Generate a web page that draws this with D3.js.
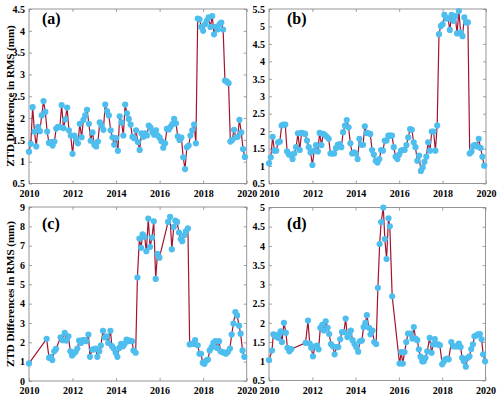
<!DOCTYPE html>
<html><head><meta charset="utf-8">
<script src="https://cdn.jsdelivr.net/npm/d3@7"></script>
<style>body{margin:0;background:#fff}svg{display:block}
text{font-family:"Liberation Serif","Tinos","Times New Roman","DejaVu Serif",serif;font-weight:bold}</style>
</head><body><svg id="c" width="500" height="398"></svg>
<script>
// ---- data ----
const xTicks = [2010, 2012, 2014, 2016, 2018, 2020];
const startYear = 2010; // panels a and b are monthly series starting Jan 2010

const valuesA = [1.23,1.41,2.25,1.69,1.35,1.80,1.70,2.06,2.39,2.14,1.69,1.43,1.45,1.37,1.46,1.76,1.80,1.79,2.30,1.77,
1.97,2.24,1.72,1.60,1.18,1.60,1.52,1.42,1.87,1.56,1.96,2.06,2.19,1.87,1.48,1.67,1.39,1.35,1.46,1.90,
1.83,1.73,2.31,2.16,2.06,1.72,1.56,1.39,1.54,1.25,2.04,1.90,1.60,2.31,2.11,1.98,1.85,1.57,1.54,1.72,
1.45,1.27,1.65,1.57,1.65,1.60,1.83,1.78,1.68,1.62,1.72,1.60,1.55,1.47,1.32,1.42,1.75,1.74,1.80,1.86,
1.98,1.88,1.58,1.50,1.55,1.10,0.83,1.33,1.37,1.60,1.72,1.85,1.42,4.28,4.26,4.09,4.00,4.15,4.23,4.31,
4.09,4.34,3.92,4.09,4.03,4.15,4.19,4.03,2.86,2.84,2.80,1.46,1.50,1.73,1.56,1.57,1.96,1.67,1.29,1.11];

const valuesB = [1.08,1.25,1.84,1.44,1.44,1.68,1.70,2.16,2.19,2.19,1.42,1.33,1.33,1.20,1.36,1.54,1.94,1.46,1.95,1.94,
1.92,1.73,1.54,1.39,1.03,1.44,1.60,1.42,1.95,1.60,1.92,1.89,1.84,1.78,1.36,1.36,1.36,1.51,1.61,1.63,
1.54,1.97,2.16,2.32,2.11,1.65,1.36,1.39,1.36,1.20,1.78,1.61,1.61,2.14,1.95,1.94,1.92,1.46,1.33,1.15,
1.10,1.20,1.46,1.44,1.73,1.73,1.87,1.87,1.87,1.54,1.27,1.20,1.33,1.44,1.46,1.46,1.60,1.82,2.06,2.04,
1.68,1.54,1.15,1.30,0.86,0.96,1.12,1.27,1.68,1.44,1.99,1.99,1.44,2.16,4.78,5.01,5.06,5.33,5.23,5.23,
4.90,5.33,5.16,5.30,4.80,5.44,4.83,4.72,5.26,5.11,5.12,1.36,1.42,1.58,1.61,1.56,1.78,1.52,1.27,1.01];

const yearsC = [2010.0,2010.81,2010.92,2011.0,2011.07,2011.16,2011.24,2011.45,2011.55,2011.64,2011.72,2011.81,2011.9,2011.98,
2012.06,2012.14,2012.22,2012.3,2012.39,2012.47,2012.56,2012.63,2012.73,2012.8,2012.9,2012.97,2013.06,2013.14,2013.23,2013.3,
2013.4,2013.48,2013.57,2013.64,2013.74,2013.81,2013.89,2013.98,2014.06,2014.15,2014.23,2014.32,2014.39,2014.48,2014.56,2014.64,
2014.73,2014.8,2014.9,2014.98,2015.07,2015.15,2015.22,2015.31,2015.39,2015.48,2015.56,2015.65,2015.73,2015.82,2015.9,2015.99,
2016.39,2016.48,2016.56,2016.65,2016.72,2016.8,2016.89,2016.97,2017.04,2017.13,2017.21,2017.3,2017.38,2017.47,2017.55,2017.63,
2017.75,2017.83,2017.9,2017.98,2018.06,2018.14,2018.22,2018.3,2018.39,2018.47,2018.56,2018.64,2018.73,2018.8,2018.9,2018.97,
2019.05,2019.14,2019.23,2019.31,2019.39,2019.48,2019.56,2019.65,2019.72,2019.81,2019.89];
const valuesC = [0.91,2.18,1.20,1.25,1.08,1.54,1.66,2.26,2.11,2.49,2.09,2.31,1.54,1.32,
1.42,1.51,1.68,2.09,1.97,2.11,2.11,2.06,2.40,1.25,1.63,1.63,1.68,1.25,1.54,1.83,
2.60,2.26,2.31,1.97,2.60,1.80,1.68,1.46,1.25,1.71,1.92,1.80,1.92,2.14,2.06,2.09,
2.06,1.58,1.46,5.35,7.37,6.89,7.59,7.46,6.71,8.40,6.94,7.42,8.26,5.28,6.58,6.38,
8.23,8.49,6.81,7.97,8.30,8.23,7.68,7.34,7.23,7.54,7.75,7.89,1.89,1.92,1.92,2.11,
1.85,1.41,1.41,0.94,0.89,1.06,1.11,1.58,1.75,1.97,2.06,1.71,2.06,1.54,1.49,1.46,
1.41,1.51,1.68,2.40,2.97,3.57,3.39,2.86,2.45,1.58,1.25];

const yearsD = [2010.0,2010.14,2010.2,2010.29,2010.35,2010.42,2010.48,2010.54,2010.6,2010.69,2010.78,2010.85,2010.94,2011.03,
2011.69,2011.8,2011.88,2011.95,2012.03,2012.12,2012.22,2012.29,2012.37,2012.46,2012.54,2012.62,2012.71,2012.78,2012.86,2012.95,
2013.03,2013.12,2013.2,2013.29,2013.37,2013.46,2013.54,2013.62,2013.71,2013.78,2013.86,2013.95,2014.03,2014.12,2014.2,2014.29,
2014.37,2014.45,2014.52,2014.62,2014.69,2014.78,2014.86,2014.95,2015.03,2015.11,2015.18,2015.28,2015.35,2015.43,2015.52,2015.58,
2015.69,2016.03,2016.11,2016.18,2016.26,2016.34,2016.42,2016.54,2016.62,2016.69,2016.77,2016.85,2016.92,2017.0,2017.08,2017.15,
2017.23,2017.31,2017.42,2017.51,2017.58,2017.66,2017.74,2017.82,2017.89,2018.0,2018.08,2018.15,2018.23,2018.3,2018.42,2018.51,
2018.62,2018.69,2018.77,2018.85,2018.92,2019.0,2019.09,2019.18,2019.26,2019.34,2019.42,2019.49,2019.57,2019.65,2019.74,2019.82,
2019.89,2019.98];
const valuesD = [1.03,1.28,1.70,1.65,1.68,1.61,1.70,1.78,1.50,2.00,1.74,1.35,1.26,1.32,
1.48,2.06,1.46,1.35,1.13,1.39,1.41,1.31,1.87,1.95,1.80,2.04,1.87,1.71,1.45,1.39,
1.18,1.37,1.37,1.57,1.76,1.76,2.11,1.63,1.70,1.80,1.55,1.45,1.37,1.25,1.52,1.54,
1.89,2.00,2.20,1.87,1.70,1.80,1.50,1.45,2.91,4.05,4.62,5.00,4.18,3.66,4.72,4.51,
2.69,0.94,1.24,0.94,1.24,1.50,1.72,1.72,1.59,1.89,1.59,1.55,1.31,1.12,1.00,1.00,
1.09,1.26,1.61,1.22,1.44,1.58,1.44,1.44,1.42,0.92,1.00,1.05,1.07,1.05,1.50,1.39,
1.39,1.39,1.46,1.37,1.09,1.00,0.86,1.09,1.13,1.32,1.44,1.65,1.67,1.70,1.71,1.57,
1.18,1.00];

const yTicksA = [0.5,1,1.5,2,2.5,3,3.5,4,4.5];
const yTicksB = [0.5,1,1.5,2,2.5,3,3.5,4,4.5,5,5.5];
const yTicksC = [0,1,2,3,4,5,6,7,8,9];
const yTicksD = [0.5,1,1.5,2,2.5,3,3.5,4,4.5,5];
const yLabelTop = "ZTD Difference in RMS (mm)";
const yLabelBottom = "ZTD Differences in RMS (mm)";

// ---- drawing ----
const svg = d3.select("#c");
const lineColor = "#A2142F", markerColor = "#4DBEEE", frameColor = "#8a8a8a";

function monthly(vals){ return vals.map((v,i)=>({x:startYear + i/12, y:v})); }
function paired(xs, ys){ return xs.map((x,i)=>({x:x, y:ys[i]})); }

const panels = [
  {id:"(a)", data:monthly(valuesA), yDom:[0.5,4.5], yTicks:yTicksA, box:[29,246.7,9,183.5], lab:[42,24]},
  {id:"(b)", data:monthly(valuesB), yDom:[0.5,5.5], yTicks:yTicksB, box:[269,486,9,183.5], lab:[287,24]},
  {id:"(c)", data:paired(yearsC,valuesC), yDom:[0,9], yTicks:yTicksC, box:[29,246.7,207,381], lab:[42,229]},
  {id:"(d)", data:paired(yearsD,valuesD), yDom:[0.5,5], yTicks:yTicksD, box:[269,485.5,207.5,380.5], lab:[287,229]}
];

panels.forEach(p=>{
  const [l,r,t,b] = p.box;
  const x = d3.scaleLinear().domain([2010,2020]).range([l,r]);
  const y = d3.scaleLinear().domain(p.yDom).range([b,t]);
  const g = svg.append("g");

  const fmt = d => String(d);
  const ax = (gen, tr, labels) => {
    const a = g.append("g").attr("transform", tr).call(gen);
    a.attr("font-family", null).attr("font-size", null);
    a.select(".domain").remove();
    a.selectAll(".tick line").attr("stroke", frameColor).attr("stroke-width", 0.8);
    a.selectAll("text").style("font-size", "10px").attr("fill","#000");
    if(!labels) a.selectAll("text").remove();
    return a;
  };
  ax(d3.axisBottom(x).tickValues(xTicks).tickFormat(d3.format("d")).tickSizeInner(-3).tickSizeOuter(0).tickPadding(6), `translate(0,${b})`, true);
  ax(d3.axisTop(x).tickValues(xTicks).tickSizeInner(-3).tickSizeOuter(0), `translate(0,${t})`, false);
  ax(d3.axisLeft(y).tickValues(p.yTicks).tickFormat(fmt).tickSizeInner(-3).tickSizeOuter(0).tickPadding(4), `translate(${l},0)`, true);
  ax(d3.axisRight(y).tickValues(p.yTicks).tickSizeInner(-3).tickSizeOuter(0), `translate(${r},0)`, false);

  g.append("rect").attr("x",l).attr("y",t).attr("width",r-l).attr("height",b-t)
    .attr("fill","none").attr("stroke",frameColor).attr("stroke-width",0.9);

  const line = d3.line().x(d=>x(d.x)).y(d=>y(d.y));
  g.append("path").datum(p.data).attr("d",line).attr("fill","none")
    .attr("stroke",lineColor).attr("stroke-width",1.2).attr("stroke-linejoin","round");
  g.selectAll("circle").data(p.data).join("circle")
    .attr("cx",d=>x(d.x)).attr("cy",d=>y(d.y)).attr("r",3.1).attr("fill",markerColor);

  g.append("text").attr("x",p.lab[0]).attr("y",p.lab[1]).text(p.id).style("font-size","16px");
});

svg.append("text").attr("transform","translate(14,96) rotate(-90)").attr("text-anchor","middle")
  .style("font-size","11px").text(yLabelTop);
svg.append("text").attr("transform","translate(14,294) rotate(-90)").attr("text-anchor","middle")
  .style("font-size","11px").text(yLabelBottom);
</script></body></html>
